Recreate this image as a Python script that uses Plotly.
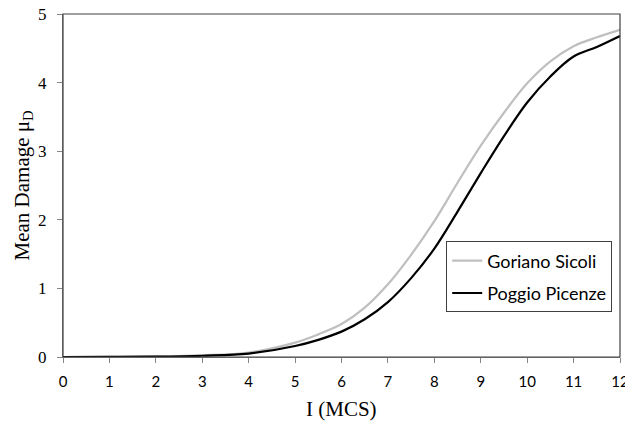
import plotly.graph_objects as go

intensity = [0, 1, 2, 3, 4, 5, 5.5, 6, 6.5, 7, 7.5, 8, 8.5, 9, 9.5, 10, 10.5, 11, 11.5, 12]
goriano = [0, 0.002, 0.008, 0.025, 0.065, 0.21, 0.33, 0.48, 0.72, 1.06, 1.49, 1.98, 2.54, 3.08, 3.56, 3.99, 4.31, 4.53, 4.66, 4.77]
poggio = [0, 0.001, 0.005, 0.018, 0.05, 0.16, 0.25, 0.37, 0.55, 0.8, 1.15, 1.58, 2.12, 2.68, 3.22, 3.71, 4.09, 4.38, 4.52, 4.68]

x_ticks = list(range(0, 13))
y_ticks = [0, 1, 2, 3, 4, 5]
x_title = "I (MCS)"
y_title = "Mean Damage μ<sub>D</sub>"

fig = go.Figure()
fig.add_trace(go.Scatter(x=intensity, y=goriano, mode="lines", name="Goriano Sicoli",
                         legendgroup="g1",
                         line=dict(color="#BFBFBF", width=2.2, shape="spline", smoothing=1.0)))
fig.add_trace(go.Scatter(x=intensity, y=poggio, mode="lines", name="Poggio Picenze",
                         legendgroup="g2",
                         line=dict(color="#000000", width=2.2, shape="spline", smoothing=1.0)))

fig.update_layout(
    width=625, height=421,
    margin=dict(l=62.5, r=5, t=14, b=63.5, autoexpand=False),
    paper_bgcolor="white", plot_bgcolor="white",
    showlegend=True,
    legend=dict(x=0.986, y=0.337, xanchor="right", yanchor="top",
                bgcolor="white", bordercolor="#404040", borderwidth=1,
                font=dict(family="Lato", size=18, color="#000000"),
                tracegroupgap=6, itemwidth=30),
    xaxis=dict(range=[0, 12], tickvals=x_ticks, ticks="outside", ticklen=5,
               tickcolor="#868686", showline=True, linecolor="#868686", linewidth=1,
               showgrid=False, zeroline=False, automargin=False, ticklabeloverflow="allow",
               ticklabelstandoff=6,
               tickfont=dict(family="Lato", size=15, color="#000000")),
    yaxis=dict(range=[0, 5], tickvals=y_ticks, ticks="outside", ticklen=5,
               tickcolor="#868686", showline=True, linecolor="#868686", linewidth=1,
               showgrid=False, zeroline=False, automargin=False,
               ticklabelstandoff=7,
               tickfont=dict(family="Liberation Serif", size=17, color="#000000")),
    annotations=[
        dict(text=x_title, xref="paper", yref="paper", x=0.5, y=0, xanchor="center",
             yanchor="middle", yshift=-51.5, showarrow=False,
             font=dict(family="Liberation Serif", size=21, color="#000000")),
        dict(text=y_title, xref="paper", yref="paper", x=0, y=0.5, xanchor="center",
             yanchor="middle", xshift=-41, textangle=-90, showarrow=False,
             font=dict(family="Liberation Serif", size=21, color="#000000")),
    ],
    shapes=[dict(type="rect", xref="paper", yref="paper", x0=0, y0=0, x1=1, y1=1,
                 line=dict(color="#404040", width=1.2), layer="above")],
)

fig.write_html("out.html", config={"displayModeBar": False},
               post_script="document.body.style.margin='0';document.body.style.overflow='hidden';")
